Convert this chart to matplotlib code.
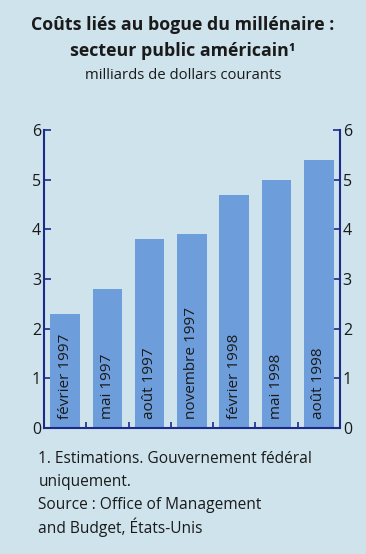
import matplotlib.pyplot as plt
import numpy as np

# data
periods = ['février 1997', 'mai 1997', 'août 1997', 'novembre 1997',
           'février 1998', 'mai 1998', 'août 1998']
costs = [2.3, 2.8, 3.8, 3.9, 4.7, 5.0, 5.4]
yticks = [0, 1, 2, 3, 4, 5, 6]

bg = '#cee3ec'
bar_col = '#6d9dda'
axis_col = '#1c2a8c'
txt = '#1a1a1a'

plt.rcParams['font.family'] = ['Open Sans', 'DejaVu Sans']

fig = plt.figure(figsize=(3.66, 5.54), dpi=100)
fig.patch.set_facecolor(bg)
ax = fig.add_axes([0.120, 0.2274, 0.809, 0.538])
ax.set_facecolor(bg)

x = np.arange(len(periods))
ax.bar(x, costs, width=0.7, color=bar_col, zorder=2)
for xi, lab in zip(x, periods):
    ax.text(xi, 0.18, lab, rotation=90, ha='center', va='bottom',
            fontsize=11, color=txt, zorder=3)

ax.set_xlim(-0.5, len(periods) - 0.5)
ax.set_ylim(0, 6)
ax.set_yticks(yticks)
ax.set_xticks(x[:-1] + 0.5)
ax.set_xticklabels([])

ax.spines['top'].set_visible(False)
for s in ['left', 'right', 'bottom']:
    ax.spines[s].set_color(axis_col)
    ax.spines[s].set_linewidth(1.5)

ax.tick_params(axis='y', direction='in', length=5, width=1.2, color=axis_col,
               left=True, right=True, labelleft=True, labelright=True,
               labelsize=11.5, labelcolor=txt, pad=2)
ax.tick_params(axis='x', direction='in', length=4, width=1.2, color=axis_col,
               bottom=True, top=False)

# titles
fig.text(0.5, 0.955, 'Coûts liés au bogue du millénaire :', ha='center',
         va='center', fontsize=12.8, fontweight='bold', color=txt)
fig.text(0.5, 0.908, 'secteur public américain¹', ha='center',
         va='center', fontsize=12.8, fontweight='bold', color=txt)
fig.text(0.5, 0.864, 'milliards de dollars courants', ha='center',
         va='center', fontsize=10.7, color=txt)

# footnotes
notes = ['1. Estimations. Gouvernement fédéral', 'uniquement.',
         'Source : Office of Management', 'and Budget, États-Unis']
for i, n in enumerate(notes):
    fig.text(0.105, 0.171 - i * 0.041, n, ha='left', va='center',
             fontsize=11.2, color=txt)

fig.savefig('out.png', dpi=100, facecolor=bg)
